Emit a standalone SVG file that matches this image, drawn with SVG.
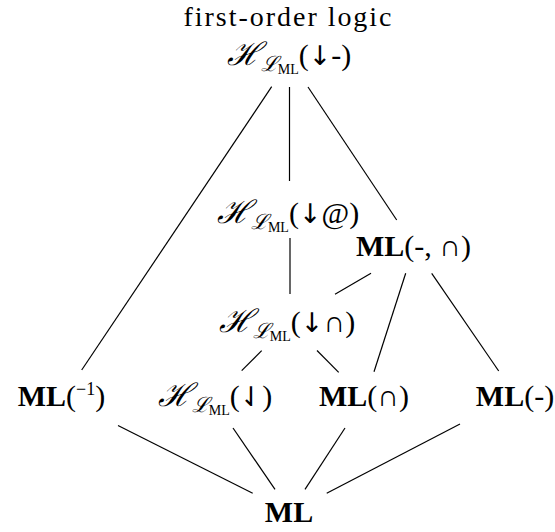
<svg xmlns="http://www.w3.org/2000/svg" width="555" height="532" viewBox="0 0 555 532">
<style>
text{font-family:"Liberation Serif","DejaVu Serif",serif;font-size:30px;fill:#000;text-anchor:middle}
.b{font-weight:bold}
.cal{font-family:"DejaVu Serif",serif;font-style:italic;font-size:32px}
.sub1{font-family:"DejaVu Serif",serif;font-size:21px;font-style:italic}
.sub2{font-size:14px}
.sup{font-size:18px}
.ar{font-family:"DejaVu Sans",sans-serif;font-size:27px}
#edges line{stroke:#000;stroke-width:1.2}
</style>
<rect width="555" height="532" fill="#fff"/>
<g id="edges">
<line x1="271.7" y1="86.7" x2="81.7" y2="370"/>
<line x1="289.5" y1="87" x2="289.5" y2="181"/>
<line x1="308" y1="87" x2="396.7" y2="220"/>
<line x1="290" y1="238" x2="290" y2="294"/>
<line x1="371" y1="273.3" x2="335" y2="294.3"/>
<line x1="405.7" y1="273.3" x2="374" y2="371.7"/>
<line x1="431.7" y1="273.3" x2="498.7" y2="371"/>
<line x1="261.7" y1="350.7" x2="241.7" y2="370.7"/>
<line x1="317" y1="350.5" x2="338.7" y2="372.3"/>
<line x1="118" y1="425.5" x2="252.7" y2="493.3"/>
<line x1="233" y1="428" x2="275" y2="489.3"/>
<line x1="345" y1="428" x2="305" y2="489.3"/>
<line x1="460" y1="424" x2="326.7" y2="493.3"/>
</g>
<g id="n-fol">
<text x="287.5" y="26" style="font-size:28px" textLength="208" lengthAdjust="spacing">first-order logic</text>
<text x="289" y="65"><tspan class="cal">ℋ</tspan><tspan class="sub1" dy="6">ℒ</tspan><tspan class="sub2" dy="3">ML</tspan><tspan dy="-9">(</tspan><tspan class="ar">↓</tspan>-)</text>
</g>
<g id="n-hat">
<text x="288" y="223"><tspan class="cal">ℋ</tspan><tspan class="sub1" dy="6">ℒ</tspan><tspan class="sub2" dy="3">ML</tspan><tspan dy="-9">(</tspan><tspan class="ar">↓</tspan>@)</text>
</g>
<g id="n-mldi">
<text x="413.5" y="256"><tspan class="b">ML</tspan>(-, ∩)</text>
</g>
<g id="n-hcap">
<text x="287" y="332"><tspan class="cal">ℋ</tspan><tspan class="sub1" dy="6">ℒ</tspan><tspan class="sub2" dy="3">ML</tspan><tspan dy="-9">(</tspan><tspan class="ar">↓</tspan>∩)</text>
</g>
<g id="n-mlconv">
<text x="61.5" y="406"><tspan class="b">ML</tspan>(<tspan class="sup" dy="-11">−1</tspan><tspan dy="11">)</tspan></text>
</g>
<g id="n-hdown">
<text x="215" y="406"><tspan class="cal">ℋ</tspan><tspan class="sub1" dy="6">ℒ</tspan><tspan class="sub2" dy="3">ML</tspan><tspan dy="-9">(</tspan><tspan class="ar">⇃</tspan>)</text>
</g>
<g id="n-mlcap">
<text x="364" y="406"><tspan class="b">ML</tspan>(∩)</text>
</g>
<g id="n-mldiff">
<text x="515" y="406"><tspan class="b">ML</tspan>(-)</text>
</g>
<g id="n-ml">
<text x="289" y="522" class="b">ML</text>
</g>
</svg>
